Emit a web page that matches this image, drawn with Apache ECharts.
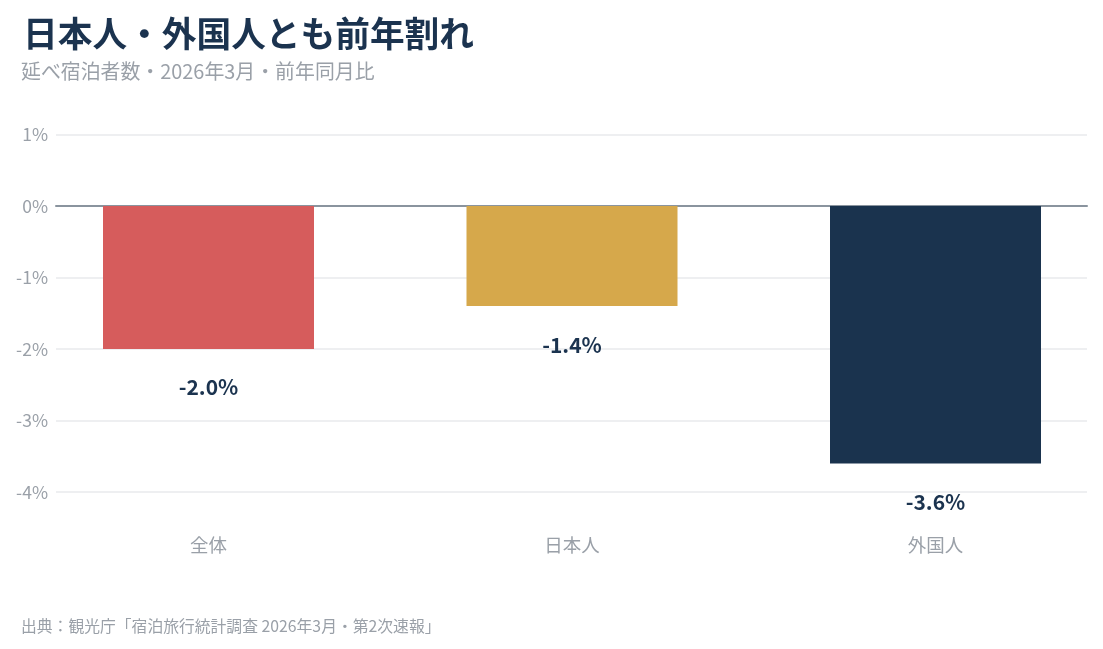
<!DOCTYPE html>
<html><head><meta charset="utf-8">
<script src="https://cdn.jsdelivr.net/npm/echarts@6/dist/echarts.min.js"></script>
<style>html,body{margin:0;padding:0;background:#fff}#c{width:1103px;height:649px}</style>
</head><body><div id="c"></div>
<script>
const categories = ['全体', '日本人', '外国人'];
const values = [-2.0, -1.4, -3.6];
const barColors = ['#d65c5c', '#d6a84b', '#1a334e'];
const yMin = -4, yMax = 1, yStep = 1;
const titleText = '日本人・外国人とも前年割れ';
const subText = '延べ宿泊者数・2026年3月・前年同月比';
const sourceText = '出典：観光庁「宿泊旅行統計調査 2026年3月・第2次速報」';

const FONT = "'Noto Sans CJK JP', sans-serif";
const chart = echarts.init(document.getElementById('c'));
chart.setOption({
  backgroundColor: '#fff',
  animation: false,
  title: [
    {text: titleText, left: 18, top: 11, textStyle: {fontFamily: FONT, fontSize: 34.7, fontWeight: 'bold', color: '#1b334f'}},
    {text: subText, left: 16, top: 56, textStyle: {fontFamily: FONT, fontSize: 19.9, fontWeight: 'normal', color: '#9aa0a8'}},
    {text: sourceText, left: 16, top: 613, textStyle: {fontFamily: FONT, fontSize: 15.8, fontWeight: 'normal', color: '#9aa0a8'}}
  ],
  grid: [
    {left: 56, right: 16, top: 134.5, bottom: 157},
    {left: 208.5, right: 167.5, top: 134.5, bottom: 157}
  ],
  xAxis: [
    {gridIndex: 0, type: 'category', data: [''], axisTick: {show: false}, axisLabel: {show: false},
     axisLine: {show: true, onZero: true, lineStyle: {color: '#8a949e', width: 2}}},
    {gridIndex: 1, type: 'category', data: categories, boundaryGap: false, axisTick: {show: false}, axisLine: {show: false},
     axisLabel: {margin: 44, fontFamily: FONT, fontSize: 18.5, color: '#9aa0a8'}}
  ],
  yAxis: [
    {gridIndex: 0, type: 'value', min: yMin, max: yMax, interval: yStep,
     axisLine: {show: false}, axisTick: {show: false},
     axisLabel: {margin: 8, fontFamily: FONT, fontSize: 17.5, color: '#9aa0a8', formatter: v => v + '%'},
     splitLine: {show: true, lineStyle: {color: '#e8eaed', width: 1.5}}},
    {gridIndex: 1, type: 'value', min: yMin, max: yMax, interval: yStep, show: false, splitLine: {show: false}}
  ],
  series: [{
    type: 'bar', xAxisIndex: 1, yAxisIndex: 1, barWidth: 211, clip: false,
    data: values.map((v, i) => ({value: v, itemStyle: {color: barColors[i]}})),
    label: {show: true, position: 'bottom', distance: 28, fontFamily: FONT, fontSize: 21, fontWeight: 'bold', color: '#1b334f',
      formatter: p => p.value.toFixed(1) + '%'}
  }]
});
</script></body></html>
